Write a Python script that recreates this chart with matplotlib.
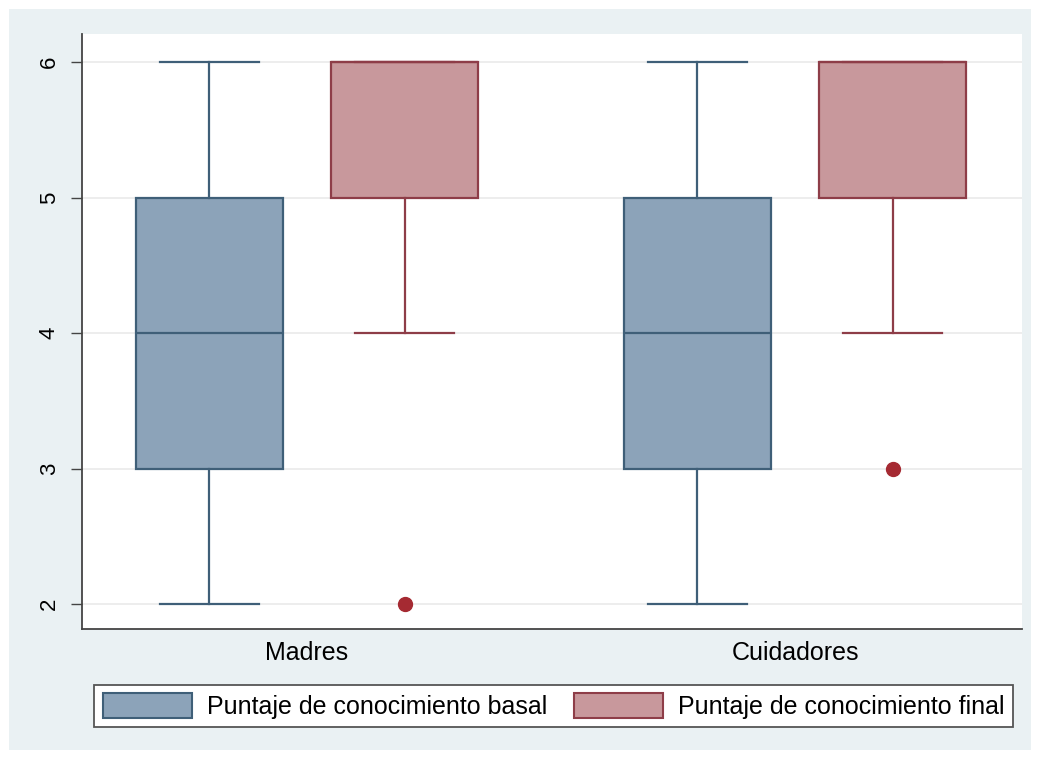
import matplotlib
matplotlib.use("Agg")
import matplotlib.pyplot as plt
from matplotlib.patches import Patch, Rectangle

plt.rcParams['font.family'] = ['Liberation Sans', 'DejaVu Sans']

# Groups and series
groups = ["Madres", "Cuidadores"]
series = ["Puntaje de conocimiento basal", "Puntaje de conocimiento final"]

# Box statistics per series, one value per group
basal_whislo = [2, 2]
basal_q1 = [3, 3]
basal_med = [4, 4]
basal_q3 = [5, 5]
basal_whishi = [6, 6]
basal_fliers = [[], []]

final_whislo = [4, 4]
final_q1 = [5, 5]
final_med = [6, 6]
final_q3 = [6, 6]
final_whishi = [6, 6]
final_fliers = [[2], [3]]

y_ticks = [2, 3, 4, 5, 6]

fill_colors = ["#8ca3b9", "#c8989c"]
edge_colors = ["#3f5f78", "#8e3d48"]
flier_color = "#a52a32"

fig = plt.figure(figsize=(10.4, 7.59), dpi=100, facecolor="white")
fig.add_artist(Rectangle((9 / 1040, 9 / 759), 1022 / 1040, 741 / 759,
                         transform=fig.transFigure, facecolor="#eaf1f3",
                         edgecolor="none", zorder=0))

ax = fig.add_axes([82 / 1040, 130 / 759, 940 / 1040, 595 / 759])
ax.set_facecolor("white")

def make_stats(lo, q1, med, q3, hi, fl):
    return [dict(whislo=lo[i], q1=q1[i], med=med[i], q3=q3[i], whishi=hi[i],
                 fliers=fl[i]) for i in range(len(groups))]

all_stats = [
    make_stats(basal_whislo, basal_q1, basal_med, basal_q3, basal_whishi, basal_fliers),
    make_stats(final_whislo, final_q1, final_med, final_q3, final_whishi, final_fliers),
]

offsets = [-0.2, 0.2]
box_w = 0.301
cap_w = 0.203
for k, stats in enumerate(all_stats):
    pos = [g + offsets[k] for g in range(len(groups))]
    ec = edge_colors[k]
    ax.bxp(stats, positions=pos, widths=box_w, capwidths=cap_w,
           patch_artist=True, showfliers=True,
           boxprops=dict(facecolor=fill_colors[k], edgecolor=ec, linewidth=1.6),
           medianprops=dict(color=ec, linewidth=1.6),
           whiskerprops=dict(color=ec, linewidth=1.6),
           capprops=dict(color=ec, linewidth=1.6),
           flierprops=dict(marker="o", markersize=10, markerfacecolor=flier_color,
                           markeredgecolor=flier_color),
           manage_ticks=False, zorder=3)

ax.set_xlim(-0.461, 1.465)
ax.set_ylim(1.816, 6.207)
ax.set_yticks(y_ticks)
ax.set_yticklabels([str(t) for t in y_ticks], rotation=90, va="center",
                   fontsize=16)
ax.set_xticks(range(len(groups)))
ax.set_xticklabels(groups, fontsize=18)
ax.tick_params(axis="x", length=0, pad=9)
ax.tick_params(axis="y", length=8, width=1, color="#444444", pad=8)
ax.yaxis.grid(True, color="#ececec", linewidth=1.3)
ax.set_axisbelow(True)
for s in ["top", "right"]:
    ax.spines[s].set_visible(False)
for s in ["left", "bottom"]:
    ax.spines[s].set_color("#444444")
    ax.spines[s].set_linewidth(1.3)

handles = [Patch(facecolor=fill_colors[i], edgecolor=edge_colors[i], linewidth=1.5)
           for i in range(2)]
leg = fig.legend(handles, series, ncol=2, loc="center",
                 bbox_to_anchor=(553.5 / 1040, 53 / 759),
                 fontsize=18, fancybox=False, frameon=True, framealpha=1,
                 handlelength=3.56, handleheight=1.16, handletextpad=0.6,
                 borderpad=0.34, columnspacing=1.08, borderaxespad=0)
leg.get_frame().set_edgecolor("#555555")
leg.get_frame().set_linewidth(1.3)
leg.get_frame().set_facecolor("white")

fig.savefig("out.png", dpi=100, facecolor="white")
